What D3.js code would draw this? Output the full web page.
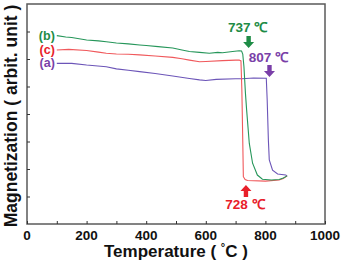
<!DOCTYPE html>
<html>
<head>
<meta charset="utf-8">
<script src="https://cdn.jsdelivr.net/npm/d3@7"></script>
<style>
  html, body { margin: 0; padding: 0; background: #fff; }
  svg { display: block; font-family: "Liberation Sans", Arial, sans-serif; }
</style>
</head>
<body>
<svg id="chart" width="346" height="260"></svg>
<script>
// temperature (°C) vs magnetization (arb. units, 0..8 frame)
const seriesB = [
  [100, 6.85], [130, 6.80], [150, 6.78], [200, 6.69], [240, 6.66], [266, 6.63],
  [300, 6.58], [340, 6.55], [378, 6.51], [400, 6.49], [440, 6.45], [489, 6.40],
  [520, 6.33], [545, 6.27], [579, 6.24], [612, 6.21], [640, 6.24], [656, 6.23],
  [690, 6.27], [712, 6.30], [720, 6.29], [724, 6.18], [728, 5.72], [733, 4.76],
  [737, 4.15], [746, 2.93], [757, 2.21], [773, 1.78], [790, 1.63], [820, 1.60],
  [846, 1.62], [860, 1.67], [873, 1.75]
]
const seriesC = [
  [100, 6.33], [140, 6.35], [200, 6.31], [240, 6.25], [266, 6.21], [300, 6.18],
  [340, 6.17], [378, 6.15], [430, 6.11], [489, 6.06], [520, 6.01], [545, 5.96],
  [579, 5.90], [600, 5.91], [656, 5.94], [700, 5.96], [712, 5.96], [718, 5.93],
  [721, 4.87], [724, 3.05], [726, 1.72], [732, 1.62], [740, 1.58], [800, 1.56],
  [846, 1.60], [860, 1.65], [873, 1.75]
]
const seriesA = [
  [100, 5.84], [150, 5.84], [200, 5.78], [266, 5.72], [300, 5.64], [340, 5.59],
  [378, 5.54], [430, 5.47], [489, 5.38], [545, 5.29], [579, 5.24], [600, 5.22],
  [635, 5.26], [700, 5.28], [722, 5.28], [760, 5.31], [803, 5.30], [806, 4.51],
  [810, 3.05], [813, 2.33], [824, 1.96], [841, 1.82], [868, 1.78], [873, 1.75]
]
const xTicks = [0, 200, 400, 600, 800, 1000]
const xMinorTicks = [100, 300, 500, 700, 900]
const yTicks = [1, 2, 3, 4, 5, 6, 7]

const margin = { top: 4, right: 21, bottom: 36, left: 27 }
const width = 346
const height = 260

const svg = d3.select('#chart')

const x = d3.scaleLinear().domain([0, 1000]).range([margin.left, width - margin.right])
const y = d3.scaleLinear().domain([0, 8]).range([height - margin.bottom, margin.top])

const line = d3.line()
  .x(d => x(d[0]))
  .y(d => y(d[1]))

// curves
const curves = [
  { data: seriesA, color: '#6c55b8' },
  { data: seriesC, color: '#f0595c' },
  { data: seriesB, color: '#26965a' },
]
svg.selectAll('path.curve')
  .data(curves)
  .join('path')
  .attr('class', 'curve')
  .attr('d', d => line(d.data))
  .attr('fill', 'none')
  .attr('stroke', d => d.color)
  .attr('stroke-width', 1.1)

// frame
svg.append('rect')
  .attr('x', x(0))
  .attr('y', y(8))
  .attr('width', x(1000) - x(0))
  .attr('height', y(0) - y(8))
  .attr('fill', 'none')
  .attr('stroke', '#5a5a5a')
  .attr('stroke-width', 1.5)

// x axis (inward ticks)
const xAxis = svg.append('g')
  .attr('transform', `translate(0,${y(0)})`)
  .call(d3.axisBottom(x).tickValues(xTicks.concat(xMinorTicks)).tickSize(-3).tickFormat(''))
xAxis.select('.domain').remove()
xAxis.selectAll('line').attr('stroke', '#333')

svg.selectAll('.xlabel')
  .data(xTicks)
  .join('text')
  .attr('class', 'xlabel')
  .attr('x', d => x(d))
  .attr('y', 240)
  .attr('text-anchor', 'middle')
  .attr('font-size', '13.5px')
  .attr('font-weight', 'bold')
  .attr('fill', '#111')
  .text(d => d)

// y axis (inward ticks, no labels)
const yAxis = svg.append('g')
  .attr('transform', `translate(${x(0)},0)`)
  .call(d3.axisLeft(y).tickValues(yTicks).tickSize(-3).tickFormat(''))
yAxis.select('.domain').remove()
yAxis.selectAll('line').attr('stroke', '#333')

// axis titles
const xt = svg.append('text')
  .attr('x', 104)
  .attr('y', 257)
  .attr('font-size', '17px')
  .attr('font-weight', 'bold')
  .attr('fill', '#111')
xt.append('tspan').text('Temperature (\u00a0')
xt.append('tspan').attr('font-size', '11px').attr('dy', -6).text('°')
xt.append('tspan').attr('dy', 6).text('C )')

svg.append('text')
  .attr('transform', 'translate(17,116) rotate(-90)')
  .attr('text-anchor', 'middle')
  .attr('font-size', '17.5px')
  .attr('font-weight', 'bold')
  .attr('fill', '#111')
  .text('Magnetization ( arbit. unit )')

// series labels
const labels = [
  { text: '(b)', t: 100, m: 6.85, color: '#1e8c46' },
  { text: '(c)', t: 100, m: 6.33, color: '#e8202a' },
  { text: '(a)', t: 100, m: 5.84, color: '#7a3fa8' },
]
svg.selectAll('.slabel')
  .data(labels)
  .join('text')
  .attr('class', 'slabel')
  .attr('x', d => x(d.t) - 2)
  .attr('y', d => y(d.m) + 4)
  .attr('text-anchor', 'end')
  .attr('font-size', '12.5px')
  .attr('font-weight', 'bold')
  .attr('fill', d => d.color)
  .text(d => d.text)

// transition annotations
const notes = [
  { text: '737 ℃', t: 737, color: '#1e8c46', ty: 32, ay: 36, dir: 'down' },
  { text: '807 ℃', t: 807, color: '#7a3fa8', ty: 62, ay: 65, dir: 'down' },
  { text: '728 ℃', t: 728, color: '#e8202a', ty: 209, ay: 185, dir: 'up' },
]
function arrowPath(cx, top, dir) {
  const h = 12, hw = 5.5, sw = 2.2, headH = 6
  if (dir === 'down') {
    return `M${cx - sw},${top} L${cx + sw},${top} L${cx + sw},${top + h - headH} L${cx + hw},${top + h - headH} ` +
      `L${cx},${top + h} L${cx - hw},${top + h - headH} L${cx - sw},${top + h - headH} Z`
  }
  return `M${cx},${top} L${cx + hw},${top + headH} L${cx + sw},${top + headH} L${cx + sw},${top + h} ` +
    `L${cx - sw},${top + h} L${cx - sw},${top + headH} L${cx - hw},${top + headH} Z`
}
svg.selectAll('.note')
  .data(notes)
  .join('text')
  .attr('class', 'note')
  .attr('x', d => x(d.t) + 1)
  .attr('y', d => d.ty)
  .attr('text-anchor', 'middle')
  .attr('font-size', '13.5px')
  .attr('font-weight', 'bold')
  .attr('fill', d => d.color)
  .text(d => d.text)
svg.selectAll('.arrow')
  .data(notes)
  .join('path')
  .attr('class', 'arrow')
  .attr('d', d => arrowPath(x(d.t) + 2, d.ay, d.dir))
  .attr('fill', d => d.color)
</script>
</body>
</html>
